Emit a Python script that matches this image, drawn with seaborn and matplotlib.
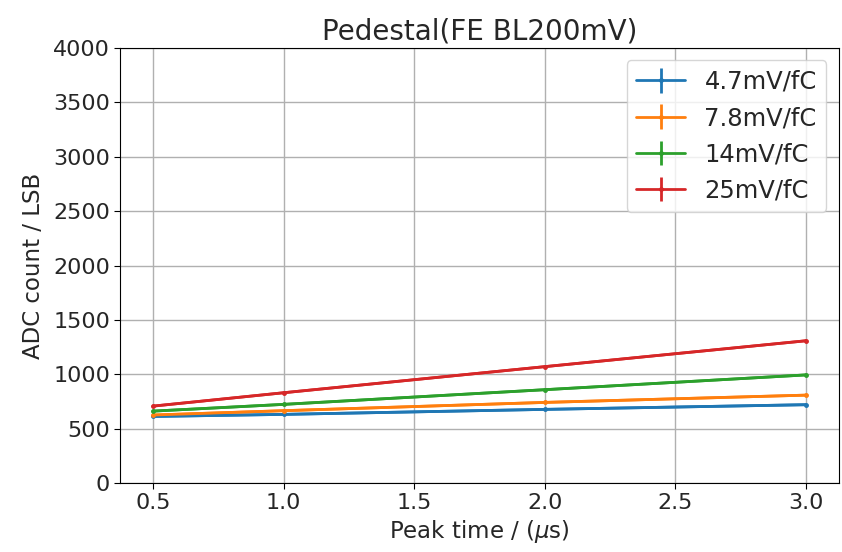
import matplotlib
matplotlib.use("Agg")
import matplotlib.pyplot as plt
import seaborn as sns
import pandas as pd

peak_time = [0.5, 1.0, 2.0, 3.0]
g_4p7 = [612, 631, 677, 720]
g_7p8 = [625, 665, 741, 808]
g_14 = [661, 723, 858, 994]
g_25 = [707, 830, 1070, 1308]
err = [8, 8, 8, 8]
labels = ["4.7mV/fC", "7.8mV/fC", "14mV/fC", "25mV/fC"]
series = [g_4p7, g_7p8, g_14, g_25]

sns.set_style("ticks")
plt.rcParams['font.family'] = ['DejaVu Sans']
colors = sns.color_palette("tab10", 4)

fig = plt.figure(figsize=(8.42, 5.52), dpi=100)
ax = fig.add_axes([0.143, 0.125, 0.853, 0.788])

rows = []
for lab, vals in zip(labels, series):
    for x, v in zip(peak_time, vals):
        rows.append({"t": x, "v": v, "g": lab})
df = pd.DataFrame(rows)
sns.lineplot(data=df, x="t", y="v", hue="g", palette=colors, ax=ax,
             linewidth=2, legend=False, zorder=3)
for lab, vals, c in zip(labels, series, colors):
    ax.errorbar(peak_time, vals, yerr=err, color=c, lw=2, marker='.', ms=5,
                elinewidth=2, label=lab, zorder=4)

ax.set_xlim(0.375, 3.125)
ax.set_ylim(0, 4000)
ax.set_xticks([0.5, 1.0, 1.5, 2.0, 2.5, 3.0])
ax.set_yticks(range(0, 4001, 500))
ax.grid(True, color='#b0b0b0', lw=1)
ax.set_axisbelow(True)
for s in ax.spines.values():
    s.set_color('black')
ax.tick_params(labelsize=16, length=4, direction='out', color='black')
ax.set_xlabel(r"Peak time / ($\mu$s)", fontsize=16.5, labelpad=3)
ax.set_ylabel("ADC count / LSB", fontsize=16.5, labelpad=6)
ax.set_title("Pedestal(FE BL200mV)", fontsize=20, pad=6)
ax.legend(loc='upper right', fontsize=17.5, handlelength=2)

fig.savefig("out.png", dpi=100)
